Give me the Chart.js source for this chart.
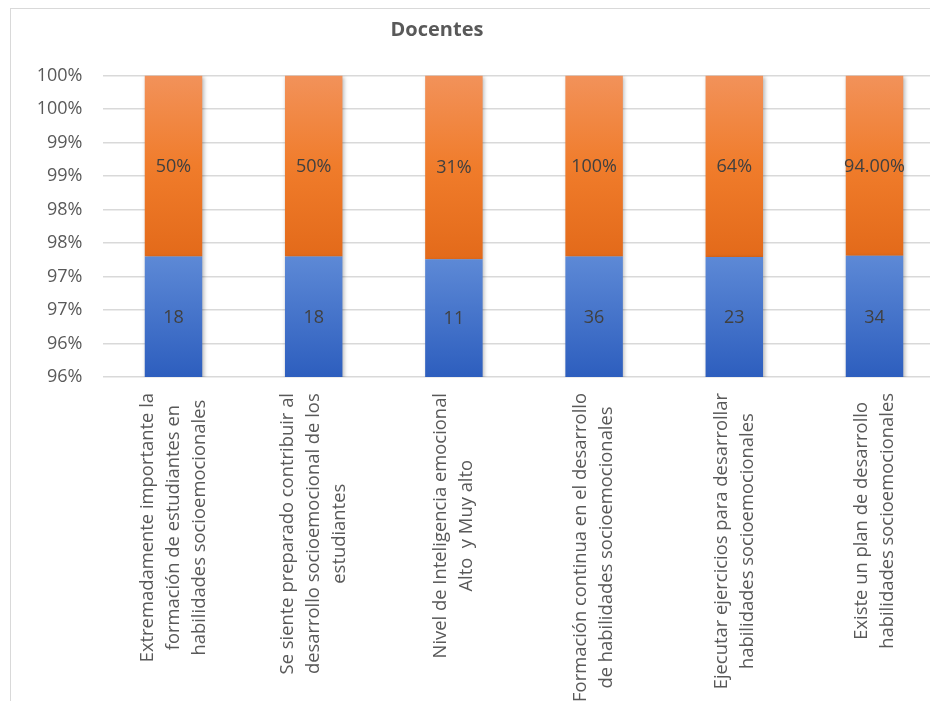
<!DOCTYPE html>
<html>
<head>
<meta charset="utf-8">
<script src="https://cdn.jsdelivr.net/npm/chart.js@4.4.1/dist/chart.umd.min.js"></script>
<style>
  html, body { margin: 0; padding: 0; background: #fff; overflow: hidden; width: 930px; height: 701px; }
  #marco { position: absolute; left: 10px; top: 8px; width: 1000px; height: 800px; border: 1px solid #d9d9d9; }
  #contenedor { position: absolute; left: 0; top: 0; width: 960px; height: 701px; }
  #titulo { position: absolute; left: 337px; top: 17px; width: 200px; text-align: center;
            font: bold 20px 'Open Sans', sans-serif; line-height: 24px; color: #595959; }
</style>
</head>
<body>
<div id="marco"></div>
<div id="contenedor"><canvas id="grafico"></canvas></div>
<div id="titulo">Docentes</div>
<script>
// Datos
const categorias = [
    ['Extremadamente importante la', 'formación de estudiantes en', 'habilidades socioemocionales'],
    ['Se siente preparado contribuir al', 'desarrollo socioemocional de los', 'estudiantes'],
    ['Nivel de Inteligencia emocional', 'Alto  y Muy alto'],
    ['Formación continua en el desarrollo', 'de habilidades socioemocionales'],
    ['Ejecutar ejercicios para desarrollar', 'habilidades socioemocionales'],
    ['Existe un plan de desarrollo', 'habilidades socioemocionales']
];
const cantidades = [18, 18, 11, 36, 23, 34];
const porcentajes = [0.5, 0.5, 0.31, 1.0, 0.64, 0.94];
const decimalesPorcentaje = [0, 0, 0, 0, 0, 2];
const etiquetasEjeY = ['96%', '96%', '97%', '97%', '98%', '98%', '99%', '99%', '100%', '100%'];

// apilado al 100% (como en Excel)
const totales = cantidades.map((c, i) => c + porcentajes[i]);
const azulPct = cantidades.map((c, i) => c / totales[i] * 100);
const naranjaPct = porcentajes.map((p, i) => p / totales[i] * 100);

const fuente = "'Open Sans', sans-serif";

function degradado(ctx, esNaranja) {
    const chart = ctx.chart;
    const area = chart.chartArea;
    if (!area || !chart.scales.y) return esNaranja ? '#ef7d32' : '#4472c4';
    const yPix = chart.scales.y.getPixelForValue(azulPct[ctx.dataIndex]);
    const top = esNaranja ? area.top : yPix;
    const bottom = esNaranja ? yPix : area.bottom;
    const g = chart.ctx.createLinearGradient(0, top, 0, bottom);
    if (esNaranja) {
        g.addColorStop(0, '#f2925a');
        g.addColorStop(0.5, '#f07c2b');
        g.addColorStop(1, '#e36a1a');
    } else {
        g.addColorStop(0, '#5d89d6');
        g.addColorStop(1, '#2d5ebe');
    }
    return g;
}

const sombra = {
    id: 'sombra',
    beforeDatasetsDraw(chart) {
        const c = chart.ctx;
        c.save();
        c.shadowColor = 'rgba(0,0,0,0.28)';
        c.shadowBlur = 4;
        c.shadowOffsetX = 1.5;
        c.shadowOffsetY = 1.5;
    },
    afterDatasetsDraw(chart) {
        chart.ctx.restore();
    }
};

const etiquetas = {
    id: 'etiquetas',
    afterDatasetsDraw(chart) {
        const c = chart.ctx;
        const area = chart.chartArea;
        c.save();
        c.font = '18px ' + fuente;
        c.fillStyle = '#404040';
        c.textAlign = 'center';
        c.textBaseline = 'middle';
        chart.data.datasets.forEach((ds, d) => {
            chart.getDatasetMeta(d).data.forEach((el, i) => {
                const base = Math.min(el.base, area.bottom);
                const texto = d === 0
                    ? String(cantidades[i])
                    : (porcentajes[i] * 100).toFixed(decimalesPorcentaje[i]) + '%';
                c.fillText(texto, el.x, (el.y + base) / 2 + 1);
            });
        });
        c.restore();
    },
    afterDraw(chart) {
        // etiquetas del eje X, giradas y centradas línea por línea
        const c = chart.ctx;
        const x = chart.scales.x;
        const alto = 26;
        c.save();
        c.font = '18.4px ' + fuente;
        c.fillStyle = '#595959';
        c.textAlign = 'center';
        c.textBaseline = 'middle';
        categorias.forEach((lineas, i) => {
            const L = Math.max(...lineas.map(t => c.measureText(t).width));
            c.save();
            c.translate(x.getPixelForValue(i), chart.chartArea.bottom + 16);
            c.rotate(-Math.PI / 2);
            lineas.forEach((t, k) => {
                c.fillText(t, -L / 2, (k - (lineas.length - 1) / 2) * alto);
            });
            c.restore();
        });
        c.restore();
    }
};

const ctx = document.getElementById('grafico').getContext('2d');
const grafico = new Chart(ctx, {
    type: 'bar',
    data: {
        labels: categorias,
        datasets: [{
            data: azulPct,
            backgroundColor: c => degradado(c, false),
            borderWidth: 0
        }, {
            data: naranjaPct,
            backgroundColor: c => degradado(c, true),
            borderWidth: 0
        }]
    },
    options: {
        responsive: true,
        maintainAspectRatio: false,
        animation: false,
        categoryPercentage: 0.41,
        barPercentage: 1,
        layout: { padding: { top: 75.5, bottom: 324, left: 0, right: 15.4 } },
        plugins: {
            legend: { display: false },
            tooltip: { enabled: false },
            title: { display: false }
        },
        scales: {
            x: {
                stacked: true,
                grid: { display: false },
                border: { display: false },
                ticks: { display: false },
                afterFit: s => { s.height = 0; }
            },
            y: {
                stacked: true,
                min: 95.5,
                max: 100,
                border: { display: false },
                grid: { color: '#d9d9d9', lineWidth: 1.5, drawTicks: false },
                ticks: {
                    stepSize: 0.5,
                    padding: 21,
                    color: '#595959',
                    font: { family: fuente, size: 18 },
                    callback: (v, i) => etiquetasEjeY[i]
                },
                afterFit: s => { s.width = 103.4; }
            }
        }
    },
    plugins: [sombra, etiquetas]
});
</script>
</body>
</html>
